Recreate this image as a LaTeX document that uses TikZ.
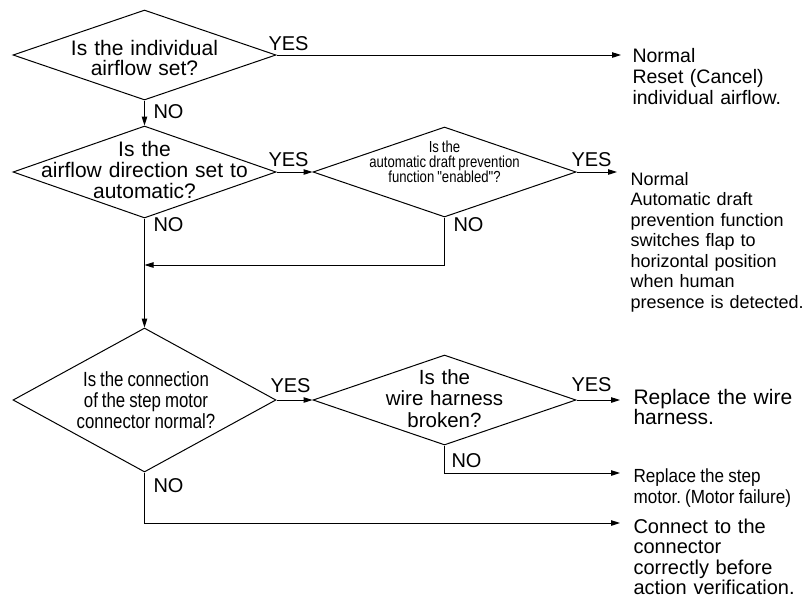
\documentclass[tikz,border=0pt]{standalone}
\usepackage{fontspec}
\setmainfont{Liberation Sans}
\newfontfamily\narrowfont[FakeStretch=0.82]{Liberation Sans}
\newfontfamily\semifont[FakeStretch=0.9]{Liberation Sans}
\newcommand\tightsp[1]{\frenchspacing\spaceskip=#1\relax}
\frenchspacing
\usetikzlibrary{shapes.geometric,arrows.meta}
\begin{document}
\begin{tikzpicture}[x=1pt,y=-1pt,line width=1pt,
  dia/.style={draw,shape=diamond,minimum width=263pt,inner sep=0pt},
  arr/.style={-{Triangle[length=9pt,width=5.5pt]}},
  lbl/.style={font=\fontsize{20}{20}\selectfont,inner sep=0pt,anchor=base west},
  qtext/.style={inner sep=0pt,anchor=base,align=center,text width=260pt},
  rtext/.style={inner sep=0pt,anchor=base west,align=left,text width=200pt}]
\useasboundingbox (0,0) rectangle (803,598);
% decision diamonds
\node[dia,minimum height=90pt] (d1) at (144.5,55) {};
\node[dia,minimum height=92pt] (d2) at (144.5,172) {};
\node[dia,minimum height=90pt] (d3) at (444.5,172) {};
\node[dia,minimum height=144pt] (d4) at (144.5,400) {};
\node[dia,minimum height=90pt] (d5) at (444.5,400) {};
% question texts
\node[qtext,font=\fontsize{21}{20}\selectfont] (q1) at (144.5,55) {Is the individual\\airflow set?};
\node[qtext,font=\fontsize{21}{21}\selectfont] (q2) at (144.5,156) {Is the\\airflow direction set to\\automatic?};
\node[qtext,font=\narrowfont\fontsize{16}{15}\selectfont] (q3) at (444.5,152) {\tightsp{3pt}Is the\\automatic draft prevention\\function "enabled"?};
\node[qtext,font=\narrowfont\fontsize{20.5}{21}\selectfont] (q4) at (146,386) {\tightsp{4pt}Is the connection\\of the step motor\\connector normal?};
\node[qtext,font=\fontsize{20.5}{21.5}\selectfont] (q5) at (444.5,384) {Is the\\wire harness\\broken?};
% result texts
\node[rtext,font=\fontsize{19.5}{21}\selectfont] (r1) at (632,62) {Normal\\Reset (Cancel)\\individual airflow.};
\node[rtext,font=\fontsize{18}{20.5}\selectfont] (r2) at (630,185) {Normal\\Automatic draft\\prevention function\\switches flap to\\horizontal position\\when human\\presence is detected.};
\node[rtext,font=\fontsize{21}{20}\selectfont] (r3) at (633,404) {Replace the wire\\harness.};
\node[rtext,font=\semifont\fontsize{19}{21}\selectfont] (r4) at (633,482) {\tightsp{4.2pt}Replace the step\\motor. (Motor failure)};
\node[rtext,font=\fontsize{20}{20.5}\selectfont] (r5) at (633,533) {Connect to the\\connector\\correctly before\\action verification.};
% YES / NO labels
\node[lbl] (y1) at (268,50) {YES};
\node[lbl] (y2) at (268,166) {YES};
\node[lbl] (y3) at (571,166) {YES};
\node[lbl] (y4) at (270,392) {YES};
\node[lbl] (y5) at (571,391) {YES};
\node[lbl] (n1) at (153,118) {NO};
\node[lbl] (n2) at (153,231) {NO};
\node[lbl] (n3) at (453,231) {NO};
\node[lbl] (n4) at (153,492) {NO};
\node[lbl] (n5) at (451,467) {NO};
% connector ends
\coordinate (e1) at (621,55);
\coordinate (e3) at (617,172);
\coordinate (e5) at (620,400);
\coordinate (e6) at (620,473);
\coordinate (e7) at (620,523);
\coordinate (m) at (144.5,265);
% connectors
\draw[arr] (d1.east) -- (e1);
\draw[arr] (d1.south) -- (d2.north);
\draw[arr] (d2.east) -- (d3.west);
\draw[arr] (d3.east) -- (e3);
\draw[arr] (d3.south) |- (m);
\draw[arr] (d2.south) -- (d4.north);
\draw[arr] (d4.east) -- (d5.west);
\draw[arr] (d5.east) -- (e5);
\draw[arr] (d5.south) |- (e6);
\draw[arr] (d4.south) |- (e7);
\end{tikzpicture}
\end{document}
